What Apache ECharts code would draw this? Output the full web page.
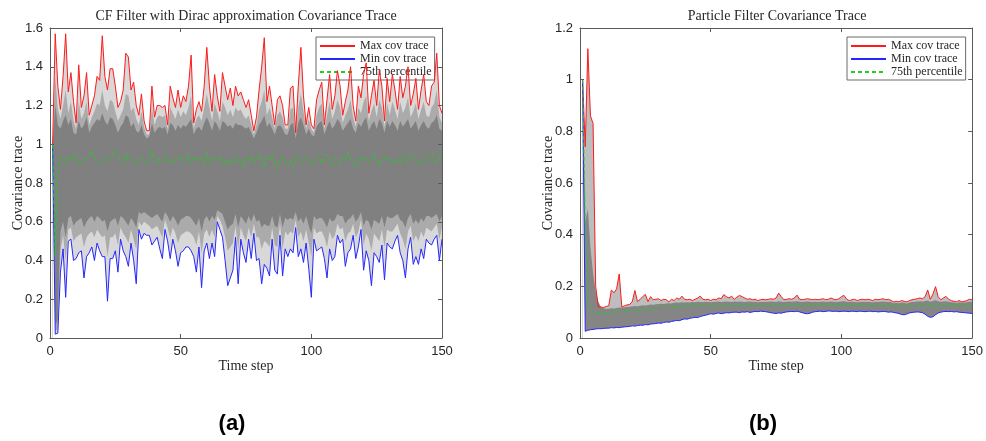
<!DOCTYPE html>
<html>
<head>
<meta charset="utf-8">
<script src="https://cdn.jsdelivr.net/npm/echarts@6/dist/echarts.min.js"></script>
<style>
  html, body { margin: 0; padding: 0; background: #fff; }
  #chart { width: 986px; height: 441px; }
</style>
</head>
<body>
<div id="chart"></div>
<script>
// ---- Panel (a): CF filter with Dirac approximation, time steps 1..150 ----
const cfMax = [
  1.00,1.57,1.30,1.18,1.35,1.57,1.27,1.37,1.22,1.11,
  1.41,1.19,1.25,1.37,1.15,1.20,1.25,1.35,1.33,1.56,
  1.35,1.28,1.39,1.39,1.30,1.19,1.22,1.28,1.47,1.45,
  1.28,1.32,1.20,1.15,1.26,1.12,1.07,1.07,1.30,1.14,
  1.20,1.20,1.19,1.20,1.10,1.30,1.24,1.19,1.28,1.19,
  1.25,1.22,1.30,1.46,1.11,1.18,1.22,1.17,1.30,1.50,
  1.30,1.17,1.36,1.25,1.17,1.37,1.30,1.23,1.29,1.20,
  1.30,1.25,1.27,1.23,1.19,1.23,1.15,1.07,1.14,1.28,
  1.40,1.55,1.22,1.30,1.20,1.10,1.23,1.25,1.20,1.10,
  1.10,1.29,1.30,1.06,1.30,1.50,1.25,1.10,1.19,1.10,
  1.08,1.23,1.28,1.32,1.10,1.23,1.36,1.18,1.25,1.38,
  1.30,1.15,1.22,1.28,1.40,1.20,1.12,1.30,1.24,1.36,
  1.42,1.16,1.25,1.33,1.20,1.38,1.30,1.12,1.34,1.22,
  1.36,1.28,1.18,1.35,1.24,1.30,1.40,1.20,1.26,1.34,
  1.18,1.28,1.36,1.22,1.20,1.30,1.32,1.47,1.20,1.16
];
const cfMin = [
  1.00,0.02,0.025,0.34,0.46,0.21,0.50,0.51,0.40,0.41,
  0.44,0.45,0.31,0.42,0.44,0.47,0.40,0.49,0.45,0.42,
  0.42,0.19,0.41,0.41,0.45,0.34,0.51,0.45,0.42,0.37,
  0.49,0.40,0.28,0.56,0.51,0.54,0.53,0.53,0.48,0.50,
  0.52,0.46,0.41,0.56,0.50,0.41,0.51,0.45,0.37,0.44,
  0.45,0.47,0.47,0.45,0.42,0.34,0.47,0.26,0.45,0.49,
  0.41,0.49,0.42,0.60,0.56,0.52,0.40,0.27,0.31,0.35,
  0.52,0.28,0.51,0.44,0.39,0.51,0.41,0.54,0.40,0.41,
  0.28,0.38,0.36,0.32,0.51,0.35,0.33,0.53,0.32,0.46,
  0.42,0.46,0.44,0.57,0.42,0.46,0.39,0.49,0.36,0.21,
  0.51,0.45,0.46,0.47,0.41,0.31,0.46,0.40,0.42,0.53,
  0.49,0.51,0.37,0.44,0.46,0.53,0.41,0.47,0.56,0.35,
  0.45,0.40,0.27,0.44,0.42,0.39,0.48,0.30,0.49,0.47,
  0.46,0.50,0.53,0.44,0.40,0.31,0.46,0.52,0.38,0.42,
  0.38,0.46,0.41,0.51,0.49,0.48,0.51,0.53,0.40,0.51
];
const cfP75 = [
  1.00,0.42,0.88,0.93,0.91,0.93,0.90,0.94,0.92,0.95,
  0.90,0.91,0.93,0.92,0.94,0.97,0.93,0.91,0.90,0.92,
  0.93,0.91,0.92,0.95,0.97,0.94,0.91,0.90,0.95,0.92,
  0.94,0.90,0.92,0.91,0.93,0.92,0.90,0.91,0.97,0.92,
  0.90,0.93,0.91,0.95,0.92,0.90,0.93,0.91,0.92,0.94,
  0.91,0.92,0.95,0.90,0.93,0.91,0.94,0.92,0.89,0.96,
  0.90,0.93,0.92,0.91,0.94,0.90,0.92,0.89,0.93,0.91,
  0.90,0.94,0.92,0.88,0.93,0.91,0.94,0.90,0.92,0.95,
  0.91,0.88,0.93,0.91,0.95,0.92,0.87,0.91,0.93,0.90,
  0.92,0.91,0.88,0.93,0.94,0.91,0.90,0.93,0.92,0.89,
  0.91,0.93,0.94,0.90,0.92,0.95,0.91,0.89,0.93,0.92,
  0.90,0.93,0.91,0.96,0.92,0.90,0.88,0.93,0.91,0.94,
  0.92,0.90,0.93,0.95,0.91,0.89,0.93,0.92,0.94,0.90,
  0.92,0.91,0.93,0.90,0.94,0.92,0.90,0.95,0.93,0.91,
  0.89,0.92,0.94,0.91,0.93,0.96,0.92,0.90,0.94,0.97
];
// edges of the bundle of individual run traces: sparse (spread) and dense (bundle) parts
const cfSpreadHi = [
  1.00,1.35,1.18,1.13,1.20,1.28,1.16,1.22,1.12,1.08,
  1.22,1.13,1.16,1.22,1.10,1.14,1.17,1.21,1.20,1.28,
  1.20,1.17,1.23,1.22,1.17,1.12,1.15,1.18,1.26,1.25,
  1.17,1.19,1.13,1.10,1.17,1.09,1.05,1.05,1.19,1.10,
  1.14,1.15,1.14,1.15,1.08,1.19,1.16,1.13,1.18,1.14,
  1.17,1.15,1.19,1.25,1.08,1.13,1.15,1.12,1.19,1.26,
  1.19,1.12,1.21,1.17,1.12,1.22,1.19,1.15,1.18,1.14,
  1.19,1.17,1.18,1.15,1.13,1.15,1.10,1.05,1.10,1.18,
  1.22,1.28,1.15,1.19,1.14,1.08,1.15,1.17,1.14,1.08,
  1.08,1.18,1.19,1.05,1.19,1.26,1.17,1.08,1.13,1.08,
  1.06,1.15,1.19,1.21,1.08,1.15,1.22,1.13,1.17,1.23,
  1.19,1.11,1.15,1.18,1.23,1.14,1.09,1.19,1.16,1.22,
  1.25,1.12,1.17,1.21,1.14,1.23,1.19,1.09,1.21,1.15,
  1.22,1.18,1.13,1.22,1.16,1.19,1.24,1.14,1.17,1.21,
  1.13,1.18,1.22,1.15,1.14,1.19,1.21,1.28,1.14,1.11
];
const cfBundleHi = [
  1.00,1.20,1.10,1.08,1.12,1.15,1.10,1.13,1.06,1.05,
  1.12,1.08,1.10,1.14,1.06,1.09,1.11,1.13,1.12,1.16,
  1.12,1.10,1.14,1.13,1.10,1.06,1.09,1.11,1.15,1.14,
  1.09,1.11,1.07,1.06,1.10,1.05,1.03,1.04,1.11,1.06,
  1.08,1.09,1.08,1.09,1.05,1.11,1.10,1.07,1.10,1.08,
  1.10,1.09,1.11,1.13,1.05,1.08,1.09,1.07,1.11,1.14,
  1.11,1.07,1.12,1.10,1.07,1.12,1.11,1.09,1.10,1.08,
  1.11,1.10,1.10,1.09,1.08,1.09,1.06,1.03,1.06,1.10,
  1.12,1.15,1.09,1.11,1.08,1.05,1.09,1.10,1.08,1.05,
  1.05,1.10,1.11,1.03,1.11,1.14,1.10,1.05,1.08,1.05,
  1.04,1.09,1.11,1.12,1.05,1.09,1.12,1.08,1.10,1.13,
  1.11,1.07,1.09,1.11,1.13,1.08,1.06,1.11,1.09,1.12,
  1.14,1.07,1.10,1.12,1.08,1.13,1.11,1.06,1.12,1.09,
  1.12,1.10,1.07,1.12,1.09,1.11,1.13,1.08,1.10,1.12,
  1.07,1.10,1.12,1.09,1.08,1.11,1.12,1.15,1.08,1.07
];
const cfBundleLo = [
  1.00,0.06,0.10,0.55,0.60,0.52,0.62,0.63,0.58,0.60,
  0.61,0.62,0.57,0.60,0.62,0.63,0.60,0.63,0.62,0.60,
  0.61,0.55,0.60,0.61,0.62,0.58,0.63,0.62,0.60,0.58,
  0.62,0.60,0.57,0.65,0.64,0.65,0.64,0.63,0.62,0.63,
  0.64,0.62,0.60,0.65,0.63,0.60,0.63,0.61,0.58,0.61,
  0.62,0.63,0.63,0.62,0.60,0.58,0.62,0.55,0.61,0.63,
  0.60,0.63,0.61,0.66,0.65,0.64,0.60,0.56,0.58,0.59,
  0.64,0.57,0.63,0.61,0.59,0.63,0.60,0.64,0.60,0.61,
  0.57,0.59,0.58,0.58,0.63,0.58,0.57,0.64,0.57,0.62,
  0.61,0.62,0.61,0.65,0.60,0.62,0.59,0.63,0.58,0.54,
  0.63,0.61,0.62,0.62,0.60,0.57,0.62,0.60,0.61,0.64,
  0.63,0.63,0.59,0.61,0.62,0.64,0.60,0.62,0.65,0.58,
  0.61,0.60,0.56,0.61,0.60,0.59,0.63,0.57,0.63,0.62,
  0.62,0.63,0.64,0.61,0.60,0.57,0.62,0.64,0.59,0.61,
  0.59,0.62,0.60,0.63,0.63,0.62,0.63,0.64,0.60,0.63
];
const cfSpreadLo = [
  1.00,0.03,0.05,0.45,0.53,0.40,0.56,0.57,0.50,0.52,
  0.53,0.54,0.47,0.52,0.54,0.55,0.52,0.56,0.54,0.52,
  0.53,0.42,0.52,0.52,0.54,0.48,0.57,0.54,0.52,0.49,
  0.56,0.51,0.46,0.60,0.58,0.60,0.59,0.58,0.56,0.57,
  0.58,0.55,0.52,0.61,0.57,0.52,0.57,0.54,0.49,0.53,
  0.54,0.55,0.55,0.54,0.52,0.48,0.55,0.44,0.54,0.56,
  0.52,0.56,0.52,0.63,0.61,0.58,0.52,0.45,0.47,0.49,
  0.58,0.46,0.57,0.53,0.50,0.57,0.52,0.59,0.52,0.52,
  0.46,0.50,0.49,0.47,0.57,0.48,0.47,0.59,0.46,0.55,
  0.53,0.55,0.54,0.61,0.52,0.55,0.50,0.56,0.49,0.42,
  0.57,0.54,0.55,0.55,0.52,0.47,0.55,0.51,0.53,0.59,
  0.56,0.57,0.50,0.54,0.55,0.59,0.52,0.55,0.61,0.48,
  0.54,0.51,0.45,0.54,0.52,0.50,0.56,0.47,0.56,0.55,
  0.55,0.57,0.59,0.54,0.51,0.46,0.55,0.58,0.50,0.53,
  0.50,0.55,0.52,0.57,0.56,0.55,0.57,0.59,0.51,0.57
];

// ---- Panel (b): particle filter, time steps 1..150 ----
const pfMax = [
  1.00,0.74,1.12,0.86,0.83,0.20,0.12,0.12,0.118,0.122,
  0.125,0.186,0.175,0.19,0.248,0.12,0.125,0.128,0.13,0.141,
  0.184,0.141,0.15,0.16,0.169,0.141,0.16,0.148,0.15,0.152,
  0.145,0.15,0.148,0.14,0.15,0.145,0.155,0.15,0.162,0.15,
  0.148,0.15,0.145,0.15,0.155,0.162,0.15,0.148,0.15,0.145,
  0.15,0.148,0.155,0.152,0.168,0.16,0.155,0.162,0.15,0.158,
  0.165,0.16,0.155,0.15,0.152,0.148,0.15,0.145,0.148,0.15,
  0.148,0.15,0.152,0.15,0.155,0.174,0.16,0.148,0.15,0.152,
  0.15,0.155,0.166,0.15,0.148,0.15,0.152,0.15,0.148,0.15,
  0.148,0.15,0.152,0.148,0.15,0.155,0.15,0.148,0.152,0.16,
  0.165,0.15,0.145,0.148,0.15,0.145,0.148,0.15,0.148,0.15,
  0.148,0.145,0.15,0.148,0.15,0.152,0.148,0.15,0.145,0.14,
  0.142,0.14,0.145,0.142,0.14,0.145,0.148,0.15,0.152,0.155,
  0.152,0.16,0.186,0.15,0.17,0.199,0.16,0.148,0.155,0.161,
  0.15,0.145,0.142,0.14,0.145,0.14,0.142,0.145,0.15,0.148
];
const pfMin = [
  1.00,0.026,0.030,0.032,0.033,0.035,0.036,0.036,0.037,0.038,
  0.038,0.040,0.039,0.041,0.040,0.042,0.043,0.044,0.045,0.047,
  0.046,0.048,0.050,0.049,0.052,0.051,0.054,0.055,0.056,0.058,
  0.057,0.060,0.062,0.061,0.064,0.066,0.068,0.067,0.071,0.074,
  0.073,0.076,0.078,0.080,0.079,0.083,0.086,0.088,0.091,0.094,
  0.092,0.095,0.097,0.094,0.096,0.098,0.097,0.099,0.100,0.100,
  0.098,0.101,0.100,0.102,0.099,0.101,0.103,0.102,0.104,0.103,
  0.102,0.100,0.098,0.096,0.095,0.097,0.096,0.099,0.101,0.102,
  0.103,0.102,0.104,0.101,0.098,0.095,0.094,0.096,0.100,0.102,
  0.103,0.104,0.102,0.103,0.105,0.104,0.103,0.104,0.102,0.103,
  0.104,0.103,0.102,0.104,0.103,0.102,0.104,0.103,0.102,0.103,
  0.104,0.102,0.103,0.101,0.102,0.103,0.102,0.100,0.101,0.099,
  0.097,0.095,0.091,0.090,0.093,0.097,0.099,0.100,0.101,0.100,
  0.098,0.092,0.084,0.080,0.082,0.090,0.097,0.100,0.102,0.103,
  0.102,0.103,0.101,0.102,0.100,0.099,0.098,0.097,0.096,0.095
];
const pfP75 = [
  1.00,0.45,0.12,0.105,0.100,0.098,0.097,0.096,0.097,0.098,
  0.098,0.100,0.099,0.101,0.103,0.102,0.104,0.105,0.104,0.106,
  0.108,0.107,0.109,0.111,0.110,0.112,0.114,0.113,0.115,0.116,
  0.118,0.117,0.119,0.120,0.121,0.120,0.122,0.123,0.122,0.124,
  0.125,0.124,0.126,0.125,0.127,0.126,0.128,0.127,0.128,0.127,
  0.128,0.127,0.129,0.128,0.127,0.129,0.128,0.127,0.128,0.129,
  0.127,0.128,0.126,0.127,0.129,0.128,0.126,0.127,0.128,0.126,
  0.127,0.129,0.128,0.126,0.127,0.128,0.127,0.126,0.128,0.129,
  0.127,0.126,0.128,0.127,0.125,0.127,0.128,0.126,0.127,0.128,
  0.126,0.127,0.128,0.127,0.126,0.128,0.127,0.125,0.126,0.127,
  0.128,0.127,0.126,0.127,0.128,0.126,0.125,0.127,0.126,0.127,
  0.126,0.127,0.128,0.126,0.125,0.126,0.127,0.126,0.125,0.126,
  0.125,0.124,0.125,0.126,0.125,0.124,0.126,0.127,0.126,0.125,
  0.126,0.127,0.128,0.126,0.127,0.129,0.128,0.126,0.127,0.126,
  0.125,0.126,0.127,0.126,0.125,0.126,0.127,0.126,0.125,0.126
];
const pfBundleHi = [
  1.00,0.45,0.50,0.35,0.25,0.18,0.14,0.12,0.115,0.112,
  0.113,0.115,0.114,0.116,0.118,0.117,0.119,0.120,0.121,0.122,
  0.124,0.123,0.125,0.127,0.126,0.128,0.130,0.129,0.131,0.132,
  0.133,0.132,0.134,0.135,0.134,0.136,0.137,0.136,0.138,0.137,
  0.138,0.137,0.139,0.138,0.140,0.139,0.138,0.140,0.139,0.138,
  0.139,0.140,0.141,0.139,0.140,0.141,0.140,0.139,0.141,0.140,
  0.141,0.140,0.139,0.140,0.141,0.139,0.140,0.138,0.139,0.140,
  0.139,0.140,0.141,0.140,0.139,0.142,0.140,0.139,0.140,0.141,
  0.140,0.141,0.142,0.140,0.139,0.140,0.141,0.140,0.139,0.140,
  0.139,0.140,0.141,0.139,0.140,0.141,0.140,0.139,0.140,0.141,
  0.142,0.140,0.139,0.140,0.139,0.138,0.139,0.140,0.139,0.140,
  0.139,0.138,0.140,0.139,0.140,0.141,0.139,0.140,0.138,0.135,
  0.136,0.134,0.137,0.136,0.134,0.137,0.139,0.140,0.141,0.142,
  0.141,0.143,0.145,0.140,0.143,0.146,0.142,0.140,0.141,0.142,
  0.140,0.138,0.137,0.135,0.138,0.136,0.137,0.138,0.140,0.139
];

const xTicks = { min: 0, max: 150, interval: 50 };
const seriesNames = ['Max cov trace', 'Min cov trace', '75th percentile'];

const AXIS_COLOR = '#5a5a5a';
const TEXT_COLOR = '#262626';
const SERIF = '"Liberation Serif", "DejaVu Serif", serif';
const SANS = '"Liberation Sans", Arial, sans-serif';

const toPoints = arr => arr.map((v, i) => [i + 1, v]);

// filled region under a curve; stacking these light-to-dark-to-white gives the trace bundle
function band(arr, color, gi) {
  return {
    type: 'line', xAxisIndex: gi * 2, yAxisIndex: gi * 2,
    data: toPoints(arr), symbol: 'none', silent: true, z: 1,
    lineStyle: { width: 0 }, areaStyle: { color: color, opacity: 1 }
  };
}
function trace(name, arr, color, gi, dashed) {
  return {
    name: name, type: 'line', xAxisIndex: gi * 2, yAxisIndex: gi * 2,
    data: toPoints(arr), symbol: 'none', z: 5,
    lineStyle: { color: color, width: 1, type: dashed ? [4, 3] : 'solid' },
    itemStyle: { color: color }
  };
}

function xAxes(gi) {
  const base = {
    gridIndex: gi, type: 'value', min: xTicks.min, max: xTicks.max, interval: xTicks.interval,
    z: 3, splitLine: { show: false },
    axisLine: { show: true, onZero: false, lineStyle: { color: AXIS_COLOR, width: 1 } },
    axisTick: { show: true, inside: true, length: 4, lineStyle: { color: AXIS_COLOR } }
  };
  return [
    Object.assign({}, base, {
      position: 'bottom',
      axisLabel: { color: TEXT_COLOR, fontFamily: SANS, fontSize: 13, margin: 7 },
      name: 'Time step', nameLocation: 'middle', nameGap: 21, nameMoveOverlap: false,
      nameTextStyle: { fontFamily: SERIF, fontSize: 14, color: TEXT_COLOR, verticalAlign: 'top' }
    }),
    Object.assign({}, base, { position: 'top', axisLabel: { show: false } })
  ];
}
function yAxes(gi, max) {
  const base = {
    gridIndex: gi, type: 'value', min: 0, max: max, interval: 0.2,
    z: 3, splitLine: { show: false },
    axisLine: { show: true, onZero: false, lineStyle: { color: AXIS_COLOR, width: 1 } },
    axisTick: { show: true, inside: true, length: 4, lineStyle: { color: AXIS_COLOR } }
  };
  return [
    Object.assign({}, base, {
      position: 'left',
      axisLabel: { color: TEXT_COLOR, fontFamily: SANS, fontSize: 13, margin: 7 },
      name: 'Covariance trace', nameLocation: 'middle', nameGap: 25, nameMoveOverlap: false,
      nameTextStyle: { fontFamily: SERIF, fontSize: 14, color: TEXT_COLOR }
    }),
    Object.assign({}, base, { position: 'right', axisLabel: { show: false } })
  ];
}

function legendAt(left) {
  return {
    data: seriesNames, orient: 'vertical', left: left, top: 37,
    backgroundColor: '#fff', borderColor: '#6a6a6a', borderWidth: 1,
    padding: [3, 3, 2, 3], itemGap: 1, itemWidth: 35, itemHeight: 13,
    itemStyle: { opacity: 0 },
    textStyle: { fontFamily: SERIF, fontSize: 12, color: TEXT_COLOR, padding: [0, 0, 0, 0] },
    selectedMode: false
  };
}

const option = {
  animation: false,
  backgroundColor: '#fff',
  grid: [
    { left: 50, right: 544, top: 28, bottom: 103, containLabel: false },
    { left: 580, right: 12, top: 28, bottom: 103, containLabel: false }
  ],
  xAxis: xAxes(0).concat(xAxes(1)),
  yAxis: yAxes(0, 1.6).concat(yAxes(1, 1.2)),
  legend: [legendAt(316), legendAt(847)],
  graphic: [
    { type: 'text', x: 246, y: 16, style: { text: 'CF Filter with Dirac approximation Covariance Trace',
      font: '14px ' + SERIF, fill: TEXT_COLOR, textAlign: 'center', textVerticalAlign: 'middle' } },
    { type: 'text', x: 777, y: 16, style: { text: 'Particle Filter Covariance Trace',
      font: '14px ' + SERIF, fill: TEXT_COLOR, textAlign: 'center', textVerticalAlign: 'middle' } },
    { type: 'text', x: 232, y: 424, style: { text: '(a)',
      font: 'bold 22px ' + SANS, fill: '#000', textAlign: 'center', textVerticalAlign: 'middle' } },
    { type: 'text', x: 763, y: 424, style: { text: '(b)',
      font: 'bold 22px ' + SANS, fill: '#000', textAlign: 'center', textVerticalAlign: 'middle' } }
  ],
  series: [
    // panel (a): spread of the individual runs
    band(cfMax, '#d8d8d8', 0),
    band(cfSpreadHi, '#ababab', 0),
    band(cfBundleHi, '#808080', 0),
    band(cfBundleLo, '#ababab', 0),
    band(cfSpreadLo, '#d8d8d8', 0),
    band(cfMin, '#ffffff', 0),
    trace(seriesNames[0], cfMax, '#ff1a1a', 0, false),
    trace(seriesNames[1], cfMin, '#2626ff', 0, false),
    trace(seriesNames[2], cfP75, '#22cc22', 0, true),
    // panel (b)
    band(pfMax, '#bdbdbd', 1),
    band(pfBundleHi, '#858585', 1),
    band(pfMin, '#ffffff', 1),
    trace(seriesNames[0], pfMax, '#ff1a1a', 1, false),
    trace(seriesNames[1], pfMin, '#2626ff', 1, false),
    trace(seriesNames[2], pfP75, '#22cc22', 1, true)
  ]
};

const chart = echarts.init(document.getElementById('chart'), null, { renderer: 'canvas' });
chart.setOption(option);
</script>
</body>
</html>
